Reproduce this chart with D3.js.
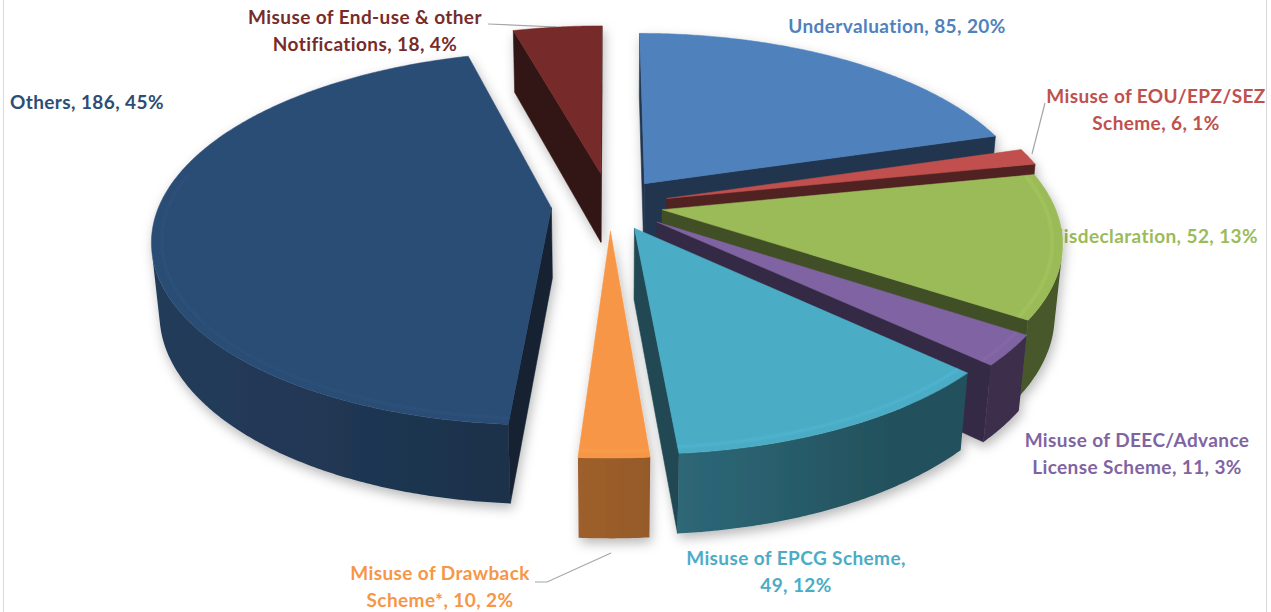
<!DOCTYPE html>
<html><head><meta charset="utf-8">
<script src="https://cdn.jsdelivr.net/npm/d3@7"></script>
<style>html,body{margin:0;padding:0;background:#fff;overflow:hidden}svg{display:block;font-family:Lato,"Open Sans",sans-serif;font-weight:700}</style>
</head><body><svg id="chart" width="1271" height="612"></svg>
<script>
// ---- data ----
const categories = ["Undervaluation","Misuse of EOU/EPZ/SEZ Scheme","Misdeclaration","Misuse of DEEC/Advance License Scheme","Misuse of EPCG Scheme","Misuse of Drawback Scheme*","Others","Misuse of End-use & other Notifications"];
const values = [85, 6, 52, 11, 49, 10, 186, 18];
const percentLabels = ["20%","1%","13%","3%","12%","2%","45%","4%"];
// ---- styling / layout ----
const sliceColors = ["#4F81BD","#C0504D","#9BBB59","#8064A2","#4BACC6","#F79646","#2C4D75","#772C2A"];
const explodeOffsets = [0.15,0.15,0.135,0.15,0.14,0.14,0.15,0.18];
const firstLineWords = [0,3,0,3,4,3,0,5];
const labelLayout = [
  {x:897,y:33,anchor:"middle"},
  {x:1156,y:103,anchor:"middle"},
  {x:1258,y:243,anchor:"end"},
  {x:1137,y:447,anchor:"middle"},
  {x:796,y:565,anchor:"middle"},
  {x:440,y:580,anchor:"middle"},
  {x:10,y:109,anchor:"start"},
  {x:365,y:24,anchor:"middle"}
];
const leaders = [
  [[488,24],[556,27]],
  [[1045,103],[1032,154]],
  [[535,582],[547,582],[611,553]]
];

const svg = d3.select("#chart");
svg.append("rect").attr("x",3.5).attr("y",-5).attr("width",1263).attr("height",630)
  .attr("fill","none").attr("stroke","#d9d9d9");

const defs = svg.append("defs");
const f = defs.append("filter").attr("id","sh").attr("x","-20%").attr("y","-20%").attr("width","140%").attr("height","140%");
f.append("feDropShadow").attr("dx",2).attr("dy",5).attr("stdDeviation",6).attr("flood-color","#000").attr("flood-opacity",0.28);
const fb = defs.append("filter").attr("id","blur");
fb.append("feGaussianBlur").attr("stdDeviation",1.2);

// labels (drawn first so the pie can overlap them)
const lab = svg.append("g");
categories.forEach((c,i)=>{
  const full = `${c}, ${values[i]}, ${percentLabels[i]}`;
  const words = full.split(" ");
  const lines = firstLineWords[i] ? [words.slice(0,firstLineWords[i]).join(" "), words.slice(firstLineWords[i]).join(" ")] : [full];
  const t = lab.append("text").attr("fill",sliceColors[i]).attr("font-size",19).attr("letter-spacing",0.4).attr("text-anchor",labelLayout[i].anchor);
  lines.forEach((l,j)=>t.append("tspan").attr("x",labelLayout[i].x).attr("y",labelLayout[i].y+j*27).text(l));
});
svg.append("g").selectAll("path").data(leaders).join("path")
  .attr("d",d=>d3.line()(d)).attr("fill","none").attr("stroke","#a6a6a6").attr("stroke-width",1.2);

// ---- 3D projection ----
const cx=610, cy=205, k=392, phi=27.5*Math.PI/180, Dcam=5.48, h=0.205;
function proj(p){
  const [X,Y,Z]=p;
  const v=Y*Math.cos(phi)-Z*Math.sin(phi);
  const w=Y*Math.sin(phi)+Z*Math.cos(phi);
  const s=Dcam/(Dcam-w);
  return [cx+k*X*s, cy-k*v*s, w];
}
function area(p){let s=0;for(let i=0;i<p.length;i++){const a=p[i],b=p[(i+1)%p.length];s+=a[0]*b[1]-b[0]*a[1];}return s;}
const light=[-0.8,0.3,0.5]; const ll=Math.hypot(...light);
const arcs = d3.pie().sort(null).startAngle(0).endAngle(2*Math.PI)(values);

const walls=[], tops=[], bevels=[];
let gid=0;
arcs.forEach((a,i)=>{
  const m=(a.startAngle+a.endAngle)/2, e=explodeOffsets[i];
  const ox=e*Math.sin(m), oz=-e*Math.cos(m);
  const rim=(t,Y,r=1)=>[ox+r*Math.sin(t),Y,oz-r*Math.cos(t)];
  const ctr=(Y)=>[ox,Y,oz];
  const base=d3.color(sliceColors[i]);
  const shade=fac=>d3.rgb(base.r*fac,base.g*fac,base.b*fac)+"";
  const n=Math.max(2,Math.ceil((a.endAngle-a.startAngle)/(Math.PI/360)));
  const ts=d3.range(n+1).map(j=>a.startAngle+(a.endAngle-a.startAngle)*j/n);
  tops.push({pts:[ctr(0),...ts.map(t=>rim(t,0))].map(proj), color:sliceColors[i]});
  let run=null; const runs=[];
  for(let j=0;j<n;j++){
    const q=[rim(ts[j],0),rim(ts[j+1],0),rim(ts[j+1],-h),rim(ts[j],-h)].map(proj);
    if(area(q)<0){
      const tm=(ts[j]+ts[j+1])/2;
      const dot=Math.max(0,(Math.sin(tm)*light[0]-Math.cos(tm)*light[2])/ll);
      const fac=0.47+0.3*dot;
      if(!run){run={top:[q[0]],bot:[q[3]],cols:[]};runs.push(run);}
      run.top.push(q[1]); run.bot.push(q[2]); run.cols.push({x:(q[0][0]+q[1][0])/2,fac});
    } else run=null;
  }
  runs.forEach(r=>{
    const pts=[...r.top,...r.bot.slice().reverse()];
    const xs=r.cols.map(c=>c.x); const x1=d3.min(xs), x2=d3.max(xs);
    const id="g"+(gid++);
    const lg=defs.append("linearGradient").attr("id",id).attr("gradientUnits","userSpaceOnUse")
      .attr("x1",x1).attr("x2",Math.max(x2,x1+1)).attr("y1",0).attr("y2",0);
    const cs=r.cols.slice().sort((a,b)=>a.x-b.x);
    const step=Math.max(1,Math.floor(cs.length/12));
    cs.filter((c,j)=>j%step===0||j===cs.length-1).forEach(c=>{
      const col=d3.rgb(base.r*c.fac,base.g*c.fac,base.b*c.fac);
      lg.append("stop").attr("offset",(x2>x1?(c.x-x1)/(x2-x1):0)).attr("stop-color",`rgb(${col.r.toFixed(2)},${col.g.toFixed(2)},${col.b.toFixed(2)})`);
    });
    walls.push({p:pts,fill:`url(#${id})`,stroke:"none",depth:d3.mean(pts,q=>q[2])});
  });
  const rc=shade(0.42);
  [[ctr(0),rim(a.startAngle,0),rim(a.startAngle,-h),ctr(-h)],[rim(a.endAngle,0),ctr(0),ctr(-h),rim(a.endAngle,-h)]].forEach(f=>{
    const p=f.map(proj);
    if(area(p)<0) walls.push({p,fill:rc,stroke:rc,depth:d3.mean(p,q=>q[2])});
  });
  const bts=ts.filter(t=>Math.cos(t)<0.2);
  if(bts.length>1) bevels.push({pts:bts.map(t=>proj(rim(t,0,0.975))),color:base.brighter(0.5)+""});
});
walls.sort((a,b)=>a.depth-b.depth);

const pie=svg.append("g").attr("filter","url(#sh)");
const line=d3.line().x(d=>d[0]).y(d=>d[1]);
pie.append("g").selectAll("path").data(walls).join("path")
  .attr("d",d=>line(d.p)+"Z").attr("fill",d=>d.fill).attr("stroke",d=>d.stroke).attr("stroke-width",0.6).attr("stroke-linejoin","round");
pie.append("g").selectAll("path").data(tops).join("path")
  .attr("d",d=>line(d.pts)+"Z").attr("fill",d=>d.color).attr("stroke",d=>d.color).attr("stroke-width",0.5);
svg.append("g").attr("filter","url(#blur)").selectAll("path").data(bevels).join("path")
  .attr("d",d=>line(d.pts)).attr("fill","none").attr("stroke",d=>d.color).attr("stroke-width",1.6).attr("stroke-opacity",0.4);
</script></body></html>
